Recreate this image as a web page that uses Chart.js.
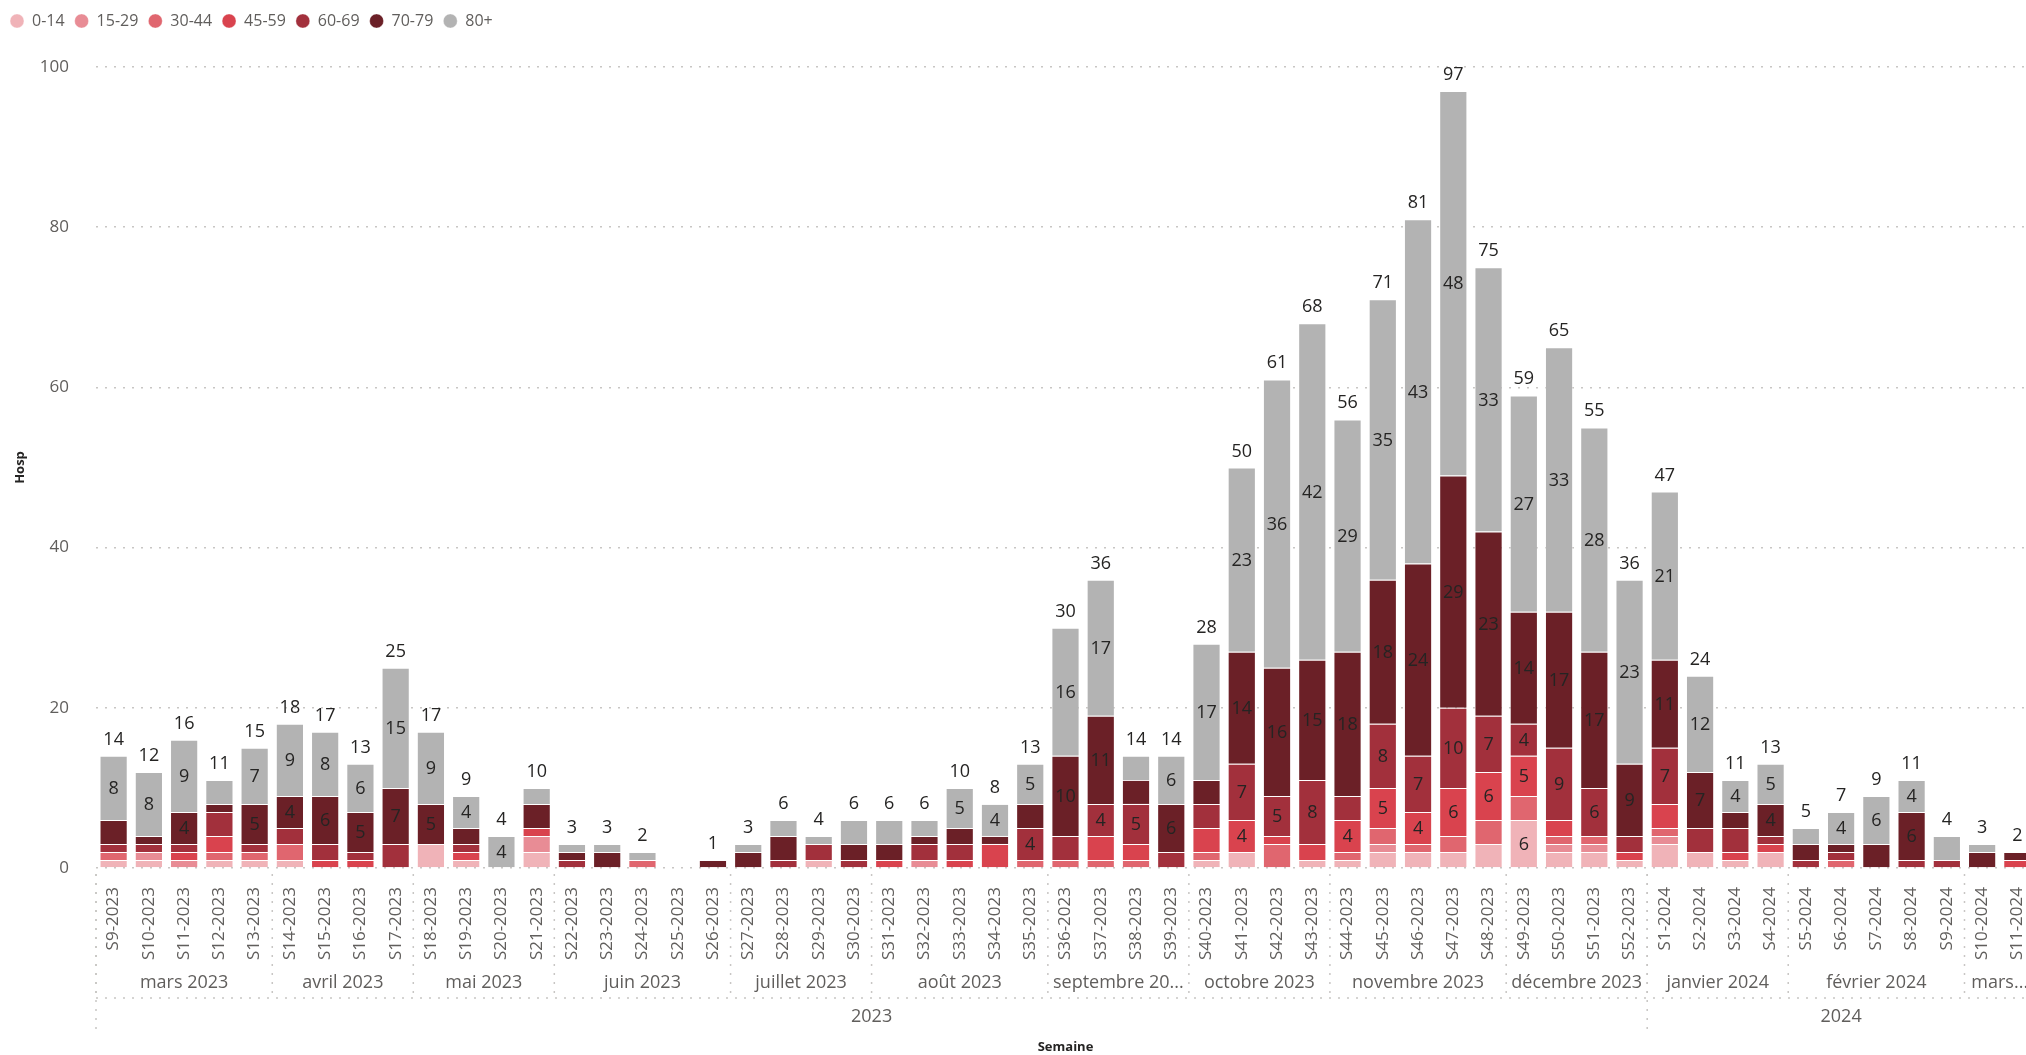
<!DOCTYPE html>
<html>
<head>
<meta charset="utf-8">
<script src="https://cdn.jsdelivr.net/npm/chart.js@4.4.1/dist/chart.umd.min.js"></script>
<style>
  html, body { margin: 0; padding: 0; background: #fff; overflow: hidden; }
  #wrap { position: absolute; left: 0; top: 0; width: 2035px; height: 1055px; }
</style>
</head>
<body>
<div id="wrap"><canvas id="myChart"></canvas></div>
<script>
const weeks = [
  'S9-2023','S10-2023','S11-2023','S12-2023','S13-2023','S14-2023','S15-2023','S16-2023','S17-2023','S18-2023',
  'S19-2023','S20-2023','S21-2023','S22-2023','S23-2023','S24-2023','S25-2023','S26-2023','S27-2023','S28-2023',
  'S29-2023','S30-2023','S31-2023','S32-2023','S33-2023','S34-2023','S35-2023','S36-2023','S37-2023','S38-2023',
  'S39-2023','S40-2023','S41-2023','S42-2023','S43-2023','S44-2023','S45-2023','S46-2023','S47-2023','S48-2023',
  'S49-2023','S50-2023','S51-2023','S52-2023','S1-2024','S2-2024','S3-2024','S4-2024','S5-2024','S6-2024',
  'S7-2024','S8-2024','S9-2024','S10-2024','S11-2024'
];

// hospitalisations par classe d'âge
const age0_14   = [1,1,0,1,1,1,0,0,0,3, 1,0,2,0,0,0,0,0,0,0, 1,0,0,0,0,0,0,0,0,0, 0,1,2,0,1,1,2,2,2,3, 6,2,2,1,3,2,1,2,0,0, 0,0,0,0,0];
const age15_29  = [0,1,1,0,0,0,0,0,0,0, 0,0,2,0,0,0,0,0,0,0, 0,0,0,1,0,0,0,0,0,0, 0,0,0,0,0,0,1,0,0,0, 0,1,1,0,1,0,0,0,0,0, 0,0,0,0,0];
const age30_44  = [1,0,0,1,1,2,0,0,0,0, 0,0,0,0,0,1,0,0,0,0, 0,0,0,0,0,0,1,1,1,1, 0,1,0,3,0,1,2,1,2,3, 3,1,1,0,1,0,0,0,0,1, 0,0,0,0,0];
const age45_59  = [0,0,1,2,0,0,1,1,0,0, 1,0,1,0,0,0,0,0,0,0, 0,0,1,0,1,3,0,0,3,2, 0,3,4,1,2,4,5,4,6,6, 5,2,0,1,3,0,1,1,0,0, 0,0,0,0,1];
const age60_69  = [1,1,1,3,1,2,2,1,3,0, 1,0,0,1,0,0,0,0,0,1, 2,1,0,2,2,0,4,3,4,5, 2,3,7,5,8,3,8,7,10,7, 4,9,6,2,7,3,3,1,1,1, 0,1,1,0,0];
const age70_79  = [3,1,4,1,5,4,6,5,7,5, 2,0,3,1,2,0,0,1,2,3, 0,2,2,1,2,1,3,10,11,3, 6,3,14,16,15,18,18,24,29,23, 14,17,17,9,11,7,2,4,2,1, 3,6,0,2,1];
const age80plus = [8,8,9,3,7,9,8,6,15,9, 4,4,2,1,1,1,0,0,1,2, 1,3,3,2,5,4,5,16,17,3, 6,17,23,36,42,29,35,43,48,33, 27,33,28,23,21,12,4,5,2,4, 6,4,3,1,0];

const seriesNames = ['0-14','15-29','30-44','45-59','60-69','70-79','80+'];
const seriesColors = ['#F0B3B8','#E88C95','#E0666F','#D9434E','#A2303C','#6B2027','#B3B3B3'];

const monthLabels = ['mars 2023','avril 2023','mai 2023','juin 2023','juillet 2023','août 2023','septembre 2023',
  'octobre 2023','novembre 2023','décembre 2023','janvier 2024','février 2024','mars 2024'];
const monthWeeks = [5,4,4,5,4,5,4,4,5,4,4,5,2];
const yearLabels = ['2023','2024'];
const yearWeeks = [44,11];

const FONT = '"Segoe UI", "Open Sans", sans-serif';
Chart.defaults.font.family = FONT;

const allSeries = [age0_14, age15_29, age30_44, age45_59, age60_69, age70_79, age80plus];

// legend band so the plot starts at the 100 line
const legendHeight = {
  id: 'legendHeight',
  beforeLayout(chart) {
    const lg = chart.legend;
    if (lg && !lg._fixed) {
      const fit = lg.fit;
      lg.fit = function () { fit.call(this); this.height = 64; };
      lg._fixed = true;
    }
  }
};

const barLabels = {
  id: 'barLabels',
  afterDatasetsDraw(chart) {
    const ctx = chart.ctx;
    const y = chart.scales.y;
    ctx.save();
    ctx.font = '18px ' + FONT;
    ctx.fillStyle = '#252423';
    ctx.textAlign = 'center';
    ctx.textBaseline = 'middle';
    chart.data.datasets.forEach((ds, i) => {
      chart.getDatasetMeta(i).data.forEach((bar, j) => {
        const v = ds.data[j];
        if (v >= 4) ctx.fillText(v, bar.x, (bar.y + bar.base) / 2 + 1);
      });
    });
    const meta0 = chart.getDatasetMeta(0);
    ctx.textBaseline = 'alphabetic';
    weeks.forEach((w, j) => {
      const tot = chart.data.datasets.reduce((s, ds) => s + ds.data[j], 0);
      if (tot > 0) ctx.fillText(tot, meta0.data[j].x, y.getPixelForValue(tot) - 11);
    });
    ctx.restore();
  }
};

function fitText(ctx, text, maxW) {
  if (ctx.measureText(text).width <= maxW) return text;
  let t = text;
  while (t.length > 1 && ctx.measureText(t + '...').width > maxW) t = t.slice(0, -1);
  return t + '...';
}

// month / year rows under the week labels
const groupAxis = {
  id: 'groupAxis',
  afterDraw(chart) {
    const x = chart.scales.x, area = chart.chartArea, ctx = chart.ctx;
    const step = x.getPixelForValue(1) - x.getPixelForValue(0);
    const edge = i => x.getPixelForValue(i) - step / 2;
    const b = area.bottom;
    ctx.save();
    ctx.strokeStyle = '#C8C6C4';
    ctx.lineWidth = 1.5;
    ctx.setLineDash([2, 7]);
    const vline = (px, y0, y1) => { ctx.beginPath(); ctx.moveTo(px, y0); ctx.lineTo(px, y1); ctx.stroke(); };

    ctx.font = '18px ' + FONT;
    ctx.fillStyle = '#605E5C';
    ctx.textAlign = 'center';
    ctx.textBaseline = 'middle';

    let start = 0;
    monthLabels.forEach((m, k) => {
      const l = edge(start), r = edge(start + monthWeeks[k]);
      vline(l, b + 6, b + 130);
      ctx.fillText(fitText(ctx, m, r - l - 10), (l + r) / 2, b + 115);
      start += monthWeeks[k];
    });
    ctx.beginPath(); ctx.moveTo(area.left, b + 130); ctx.lineTo(area.right, b + 130); ctx.stroke();

    start = 0;
    yearLabels.forEach((yl, k) => {
      const l = edge(start), r = edge(start + yearWeeks[k]);
      vline(l, b + 6, b + 165);
      ctx.fillText(yl, (l + r) / 2, b + 149);
      start += yearWeeks[k];
    });
    ctx.restore();
  }
};

const myChart = document.getElementById('myChart').getContext('2d');

const chart = new Chart(myChart, {
  type: 'bar',
  data: {
    labels: weeks,
    datasets: seriesNames.map((name, i) => ({
      label: name,
      data: allSeries[i],
      backgroundColor: seriesColors[i],
      borderColor: 'rgba(255,255,255,0.35)',
      borderWidth: 1,
      barPercentage: 0.8,
      categoryPercentage: 1.0
    }))
  },
  options: {
    responsive: true,
    maintainAspectRatio: false,
    animation: false,
    events: [],
    layout: { padding: { top: 3, left: 0, right: 0, bottom: 0 } },
    plugins: {
      tooltip: { enabled: false },
      legend: {
        position: 'top',
        align: 'start',
        labels: {
          usePointStyle: true,
          pointStyle: 'circle',
          boxHeight: 10,
          pointStyleWidth: 14,
          padding: 10,
          color: '#605E5C',
          font: { size: 16 }
        }
      }
    },
    scales: {
      x: {
        stacked: true,
        grid: { display: false },
        border: { display: false },
        ticks: {
          autoSkip: false,
          maxRotation: 90,
          minRotation: 90,
          padding: 11,
          color: '#605E5C',
          font: { size: 17 }
        },
        title: {
          display: true,
          text: 'Semaine',
          color: '#252423',
          font: { size: 13, weight: 'bold' },
          padding: { top: 0, bottom: 0 }
        },
        afterFit: (s) => { s.height = 187; s.paddingLeft = 0; s.paddingRight = 0; }
      },
      y: {
        stacked: true,
        min: 0,
        max: 100,
        ticks: {
          stepSize: 20,
          padding: 27,
          color: '#605E5C',
          font: { size: 17 }
        },
        grid: {
          color: '#C8C6C4',
          lineWidth: 1.5,
          drawTicks: false
        },
        border: { display: false, dash: [2, 7] },
        title: {
          display: true,
          text: 'Hosp',
          color: '#252423',
          font: { size: 13, weight: 'bold' },
          padding: { top: 12, bottom: 0 }
        },
        afterFit: (s) => { s.width = 96; }
      }
    }
  },
  plugins: [legendHeight, barLabels, groupAxis]
});
</script>
</body>
</html>
